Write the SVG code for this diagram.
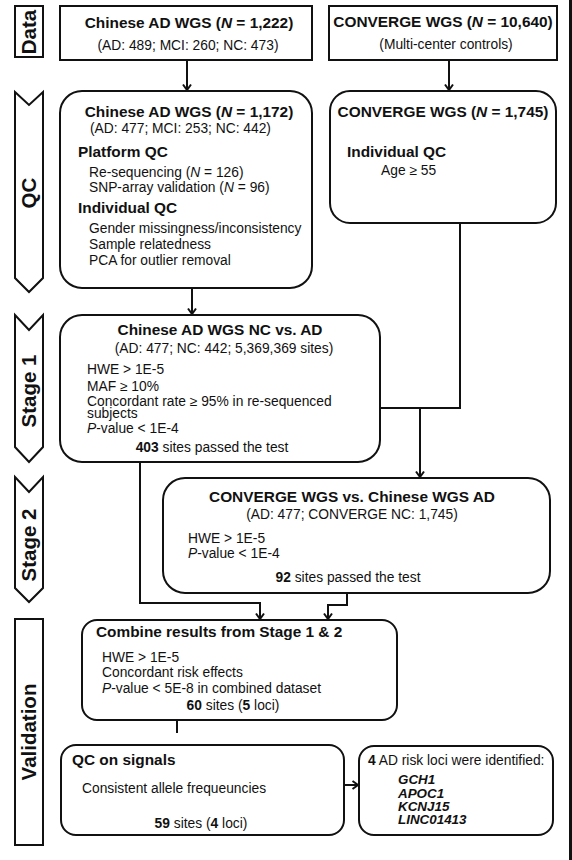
<svg xmlns="http://www.w3.org/2000/svg" width="572" height="860" viewBox="0 0 572 860">
<defs>
<style>
.box{fill:#fff;stroke:#111;stroke-width:2}
.t{font-family:"Liberation Sans",Arial,sans-serif;font-size:13.8px;fill:#111}
.h{font-weight:bold;font-size:15.4px}
.lab{font-weight:bold;font-size:20.5px}
.c{text-anchor:middle}
.i{font-style:italic}
.b{font-weight:bold}
.gene{font-weight:bold;font-style:italic;font-size:13.4px}
.conn{fill:none;stroke:#111;stroke-width:2}
</style>
<marker id="arr" markerUnits="userSpaceOnUse" markerWidth="10" markerHeight="10" refX="7" refY="5" orient="auto">
<path d="M1.5,1 L7,5 L1.5,9" fill="none" stroke="#111" stroke-width="2"/>
</marker>
</defs>
<rect width="572" height="860" fill="#fff"/>
<rect x="569" y="0" width="3" height="860" fill="#111"/>

<g id="stage-labels">
<g id="lab-data"><rect class="box" x="15" y="6" width="28" height="51"/>
<text class="t lab c" transform="translate(29,32) rotate(-90)" dy="0.36em">Data</text></g>
<g id="lab-qc"><polygon class="box" points="15,92 29,105 43,92 43,278 29,292 15,278"/>
<text class="t lab c" transform="translate(29,193) rotate(-90)" dy="0.36em">QC</text></g>
<g id="lab-stage1"><polygon class="box" points="15,315 29,330 43,315 43,447 29,462 15,447"/>
<text class="t lab c" transform="translate(29,391) rotate(-90)" dy="0.36em">Stage 1</text></g>
<g id="lab-stage2"><polygon class="box" points="15,477 29,492 43,477 43,588 29,602 15,588"/>
<text class="t lab c" transform="translate(29,545) rotate(-90)" dy="0.36em">Stage 2</text></g>
<g id="lab-validation"><rect class="box" x="15" y="619" width="28" height="226"/>
<text class="t lab c" transform="translate(29,732) rotate(-90)" dy="0.36em">Validation</text></g>
</g>

<g id="connectors">
<path class="conn" d="M187,60 V90" marker-end="url(#arr)"/>
<path class="conn" d="M449,60 V90" marker-end="url(#arr)"/>
<path class="conn" d="M192,288 V314" marker-end="url(#arr)"/>
<path class="conn" d="M460,223 V408 H380"/>
<path class="conn" d="M420,408 V477" marker-end="url(#arr)"/>
<path class="conn" d="M140,462 V603 H260 V619" marker-end="url(#arr)"/>
<path class="conn" d="M347,593 V605 H328 V619" marker-end="url(#arr)"/>
<path class="conn" d="M177,720 V733"/>
<path class="conn" d="M344,785 H358" marker-end="url(#arr)"/>
</g>

<g id="n1">
<rect class="box" x="60" y="6" width="252" height="54"/>
<text class="t h c" x="189" y="28">Chinese AD WGS (<tspan class="i">N</tspan> = 1,222)</text>
<text class="t c" x="188" y="50">(AD: 489; MCI: 260; NC: 473)</text>
</g>

<g id="n2">
<rect class="box" x="329" y="6" width="228" height="54"/>
<text class="t h c" x="443" y="27">CONVERGE WGS (<tspan class="i">N</tspan> = 10,640)</text>
<text class="t c" x="446" y="49">(Multi-center controls)</text>
</g>

<g id="n3">
<rect class="box" x="60" y="91" width="252" height="197" rx="22"/>
<text class="t h c" x="189" y="117">Chinese AD WGS (<tspan class="i">N</tspan> = 1,172)</text>
<text class="t" x="90" y="133">(AD: 477; MCI: 253; NC: 442)</text>
<text class="t h" x="78" y="157">Platform QC</text>
<text class="t" x="89" y="177">Re-sequencing (<tspan class="i">N</tspan> = 126)</text>
<text class="t" x="89" y="192">SNP-array validation (<tspan class="i">N</tspan> = 96)</text>
<text class="t h" x="78" y="213">Individual QC</text>
<text class="t" x="89" y="233">Gender missingness/inconsistency</text>
<text class="t" x="89" y="249">Sample relatedness</text>
<text class="t" x="89" y="265">PCA for outlier removal</text>
</g>

<g id="n4">
<rect class="box" x="330" y="91" width="226" height="132" rx="20"/>
<text class="t h c" x="443" y="117">CONVERGE WGS (<tspan class="i">N</tspan> = 1,745)</text>
<text class="t h" x="347" y="157">Individual QC</text>
<text class="t" x="381" y="175">Age ≥ 55</text>
</g>

<g id="n5">
<rect class="box" x="60" y="315" width="320" height="147" rx="22"/>
<text class="t h c" x="220" y="335">Chinese AD WGS NC vs. AD</text>
<text class="t c" x="224" y="353">(AD: 477; NC: 442; 5,369,369 sites)</text>
<text class="t" x="87" y="374">HWE &gt; 1E-5</text>
<text class="t" x="87" y="391">MAF ≥ 10%</text>
<text class="t" x="87" y="406">Concordant rate ≥ 95% in re-sequenced</text>
<text class="t" x="87" y="418">subjects</text>
<text class="t" x="87" y="433"><tspan class="i">P</tspan>-value &lt; 1E-4</text>
<text class="t c" x="212" y="452"><tspan class="b">403</tspan> sites passed the test</text>
</g>

<g id="n6">
<rect class="box" x="163" y="478" width="387" height="115" rx="22"/>
<text class="t h c" x="352" y="502">CONVERGE WGS vs. Chinese WGS AD</text>
<text class="t c" x="352" y="519">(AD: 477; CONVERGE NC: 1,745)</text>
<text class="t" x="188" y="543">HWE &gt; 1E-5</text>
<text class="t" x="188" y="558"><tspan class="i">P</tspan>-value &lt; 1E-4</text>
<text class="t c" x="348" y="582"><tspan class="b">92</tspan> sites passed the test</text>
</g>

<g id="n7">
<rect class="box" x="82" y="620" width="315" height="100" rx="15"/>
<text class="t h" x="96" y="637">Combine results from Stage 1 &amp; 2</text>
<text class="t" x="102" y="662">HWE &gt; 1E-5</text>
<text class="t" x="102" y="677">Concordant risk effects</text>
<text class="t" x="102" y="693"><tspan class="i">P</tspan>-value &lt; 5E-8 in combined dataset</text>
<text class="t c" x="233" y="710"><tspan class="b">60</tspan> sites (<tspan class="b">5</tspan> loci)</text>
</g>

<g id="n8">
<rect class="box" x="61" y="745" width="283" height="90" rx="15"/>
<text class="t h" x="72" y="765">QC on signals</text>
<text class="t" x="82" y="793">Consistent allele frequeuncies</text>
<text class="t c" x="201" y="828"><tspan class="b">59</tspan> sites (<tspan class="b">4</tspan> loci)</text>
</g>

<g id="n9">
<rect class="box" x="359" y="746" width="194" height="89" rx="15"/>
<text class="t" x="368" y="765"><tspan class="b">4</tspan> AD risk loci were identified:</text>
<text class="t gene" x="398" y="784">GCH1</text>
<text class="t gene" x="398" y="798">APOC1</text>
<text class="t gene" x="398" y="811">KCNJ15</text>
<text class="t gene" x="398" y="824">LINC01413</text>
</g>
</svg>
